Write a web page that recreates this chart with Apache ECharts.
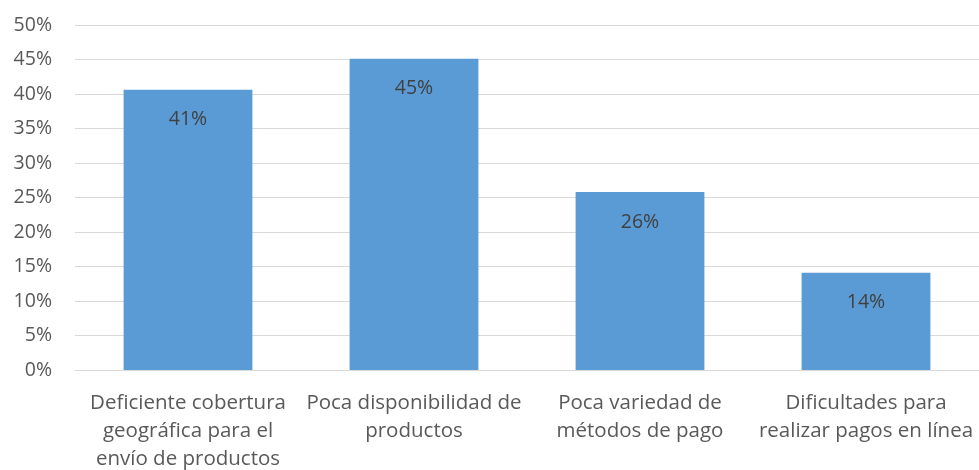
<!DOCTYPE html>
<html><head><meta charset="utf-8">
<script src="https://cdn.jsdelivr.net/npm/echarts@6/dist/echarts.min.js"></script>
<style>html,body{margin:0;padding:0;background:#fff}#c{width:979px;height:470px}</style>
</head><body><div id="c"></div>
<script>
const categories = [
  "Deficiente cobertura\ngeográfica para el\nenvío de productos",
  "Poca disponibilidad de\nproductos",
  "Poca variedad de\nmétodos de pago",
  "Dificultades para\nrealizar pagos en línea"
];
const values = [40.6, 45.1, 25.8, 14.1];
const yTicks = [0, 5, 10, 15, 20, 25, 30, 35, 40, 45, 50];

const chart = echarts.init(document.getElementById('c'));
const font = "'Open Sans', 'Noto Sans', sans-serif";
chart.setOption({
  animation: false,
  grid: { left: 75, right: 0, top: 25, bottom: 100, outerBoundsMode: 'none', containLabel: false },
  xAxis: {
    type: 'category',
    data: categories,
    axisLine: { show: true, lineStyle: { color: '#d9d9d9', width: 1 } },
    axisTick: { show: false },
    axisLabel: { color: '#595959', fontSize: 20.5, fontFamily: font, lineHeight: 28, margin: 19, interval: 0 }
  },
  yAxis: {
    type: 'value',
    min: yTicks[0], max: yTicks[yTicks.length - 1], interval: 5,
    axisLine: { show: false },
    axisTick: { show: false },
    splitLine: { lineStyle: { color: '#d9d9d9', width: 1 } },
    axisLabel: { color: '#595959', fontSize: 19.5, fontFamily: font, margin: 23, formatter: v => v + '%' }
  },
  series: [{
    type: 'bar',
    data: values,
    barWidth: '57%',
    itemStyle: { color: '#5b9bd5' },
    label: {
      show: true, position: 'insideTop', distance: 20,
      color: '#404040', fontSize: 19.5, fontFamily: font,
      formatter: p => Math.round(p.value) + '%'
    }
  }]
});
</script></body></html>
